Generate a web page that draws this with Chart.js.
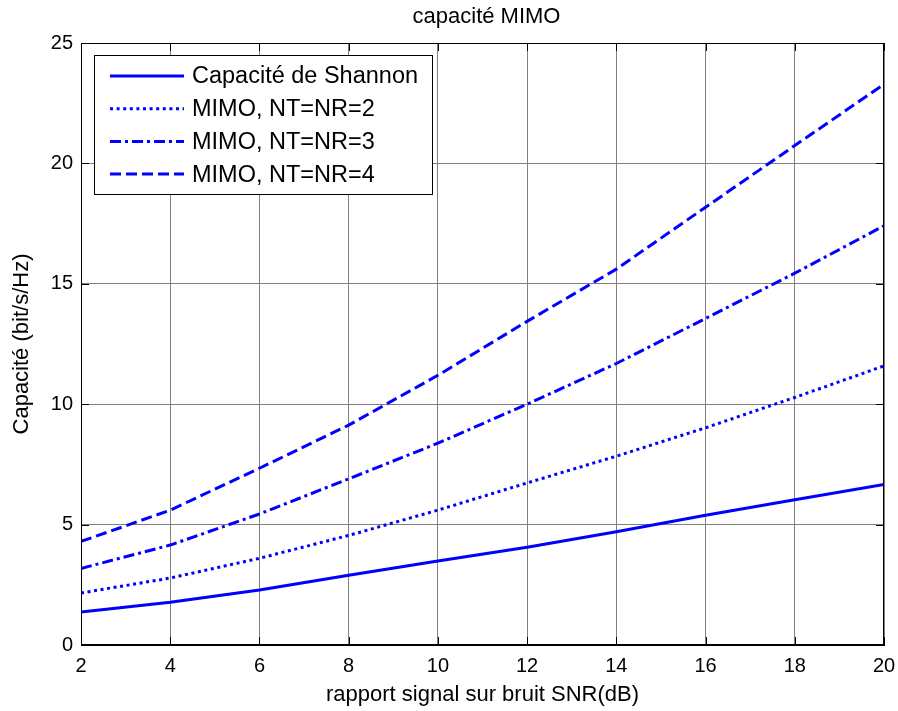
<!DOCTYPE html>
<html>
<head>
<meta charset="utf-8">
<script src="https://cdn.jsdelivr.net/npm/chart.js@4.4.1/dist/chart.umd.min.js"></script>
<style>
  html, body { margin: 0; padding: 0; background: #ffffff; }
  #wrap { width: 898px; height: 711px; position: relative; }
</style>
</head>
<body>
<div id="wrap"><canvas id="c" width="898" height="711"></canvas></div>
<script>
// ---- data ----
const titleText = "capacité MIMO";
const xLabel = "rapport signal sur bruit SNR(dB)";
const yLabel = "Capacité (bit/s/Hz)";
const snr = [2, 4, 6, 8, 10, 12, 14, 16, 18, 20];
const shannon = [1.37, 1.78, 2.28, 2.90, 3.49, 4.06, 4.70, 5.39, 6.03, 6.67];
const mimo2 = [2.16, 2.78, 3.60, 4.55, 5.60, 6.73, 7.84, 9.02, 10.28, 11.59];
const mimo3 = [3.18, 4.15, 5.44, 6.90, 8.38, 10.00, 11.69, 13.56, 15.44, 17.41];
const mimo4 = [4.30, 5.60, 7.34, 9.13, 11.20, 13.44, 15.61, 18.18, 20.74, 23.29];
const seriesNames = ["Capacité de Shannon", "MIMO, NT=NR=2", "MIMO, NT=NR=3", "MIMO, NT=NR=4"];
const xTicks = [2, 4, 6, 8, 10, 12, 14, 16, 18, 20];
const yTicks = [0, 5, 10, 15, 20, 25];

const FONT = "'Liberation Sans', Arial, sans-serif";
const BLUE = "#0000ff";
const dashes = [[], [3, 3.6], [11, 4, 3, 4], [11, 5]];
const seriesValues = [shannon, mimo2, mimo3, mimo4];

const datasets = seriesValues.map((vals, i) => ({
  label: seriesNames[i],
  data: snr.map((x, k) => ({ x: x, y: vals[k] })),
  borderColor: BLUE,
  backgroundColor: BLUE,
  borderWidth: 3,
  borderDash: dashes[i],
  borderCapStyle: 'butt',
  pointRadius: 0,
  tension: 0,
  fill: false
}));

// plugin: title, box, inner ticks, legend
const decor = {
  id: 'decor',
  afterDraw(chart) {
    const ctx = chart.ctx;
    const a = chart.chartArea;
    const xs = chart.scales.x, ys = chart.scales.y;
    ctx.save();
    // box
    ctx.strokeStyle = '#000';
    ctx.lineWidth = 1;
    ctx.strokeRect(a.left + 0.5, a.top + 0.5, a.right - a.left - 1, a.bottom - a.top - 1);
    // inner ticks
    const tl = 8;
    ctx.beginPath();
    xTicks.forEach(v => {
      const px = Math.round(xs.getPixelForValue(v)) + 0.5;
      ctx.moveTo(px, a.bottom); ctx.lineTo(px, a.bottom - tl);
      ctx.moveTo(px, a.top); ctx.lineTo(px, a.top + tl);
    });
    yTicks.forEach(v => {
      const py = Math.round(ys.getPixelForValue(v)) + 0.5;
      ctx.moveTo(a.left, py); ctx.lineTo(a.left + tl, py);
      ctx.moveTo(a.right, py); ctx.lineTo(a.right - tl, py);
    });
    ctx.stroke();
    // title
    ctx.fillStyle = '#000';
    ctx.font = "22px " + FONT;
    ctx.textAlign = 'center';
    ctx.textBaseline = 'middle';
    ctx.fillText(titleText, (a.left + a.right) / 2 + 4, 17);
    // legend
    const lx = a.left + 13, ly = a.top + 12, lw = 338, lh = 139;
    ctx.fillStyle = '#fff';
    ctx.fillRect(lx, ly, lw, lh);
    ctx.strokeStyle = '#000';
    ctx.lineWidth = 1;
    ctx.strokeRect(lx + 0.5, ly + 0.5, lw, lh);
    ctx.font = "23.5px " + FONT;
    ctx.textAlign = 'left';
    ctx.textBaseline = 'middle';
    chart.data.datasets.forEach((ds, i) => {
      const y = ly + 21 + i * 32.7;
      ctx.save();
      ctx.strokeStyle = ds.borderColor;
      ctx.lineWidth = ds.borderWidth;
      ctx.setLineDash(ds.borderDash || []);
      ctx.lineCap = 'butt';
      ctx.beginPath();
      ctx.moveTo(lx + 16, y); ctx.lineTo(lx + 90, y);
      ctx.stroke();
      ctx.restore();
      ctx.fillStyle = '#000';
      ctx.fillText(ds.label, lx + 98, y + 1);
    });
    ctx.restore();
  }
};

new Chart(document.getElementById('c'), {
  type: 'line',
  data: { datasets: datasets },
  plugins: [decor],
  options: {
    responsive: false,
    animation: false,
    devicePixelRatio: 1,
    layout: { padding: { top: 43, right: 14, left: 0, bottom: 0 } },
    plugins: {
      legend: { display: false },
      title: { display: false },
      tooltip: { enabled: false }
    },
    scales: {
      x: {
        type: 'linear',
        min: 2, max: 20,
        afterFit(s) { s.height = 66; s.paddingLeft = 0; s.paddingRight = 0; },
        afterBuildTicks(s) { s.ticks = xTicks.map(v => ({ value: v })); },
        ticks: { color: '#000', font: { family: FONT, size: 20 }, padding: 9, maxRotation: 0 },
        grid: { color: '#808080', lineWidth: 1, drawTicks: false },
        border: { display: true, color: '#000', width: 1 },
        title: { display: true, text: xLabel, color: '#000', font: { family: FONT, size: 22 }, padding: { top: 0, bottom: 3 } }
      },
      y: {
        type: 'linear',
        min: 0, max: 25,
        afterFit(s) { s.width = 81; s.paddingTop = 0; s.paddingBottom = 0; },
        afterBuildTicks(s) { s.ticks = yTicks.map(v => ({ value: v })); },
        ticks: { color: '#000', font: { family: FONT, size: 20 }, padding: 8 },
        grid: { color: '#808080', lineWidth: 1, drawTicks: false },
        border: { display: true, color: '#000', width: 1 },
        title: { display: true, text: yLabel, color: '#000', font: { family: FONT, size: 22 }, padding: { top: 9, bottom: 0 } }
      }
    }
  }
});
</script>
</body>
</html>
